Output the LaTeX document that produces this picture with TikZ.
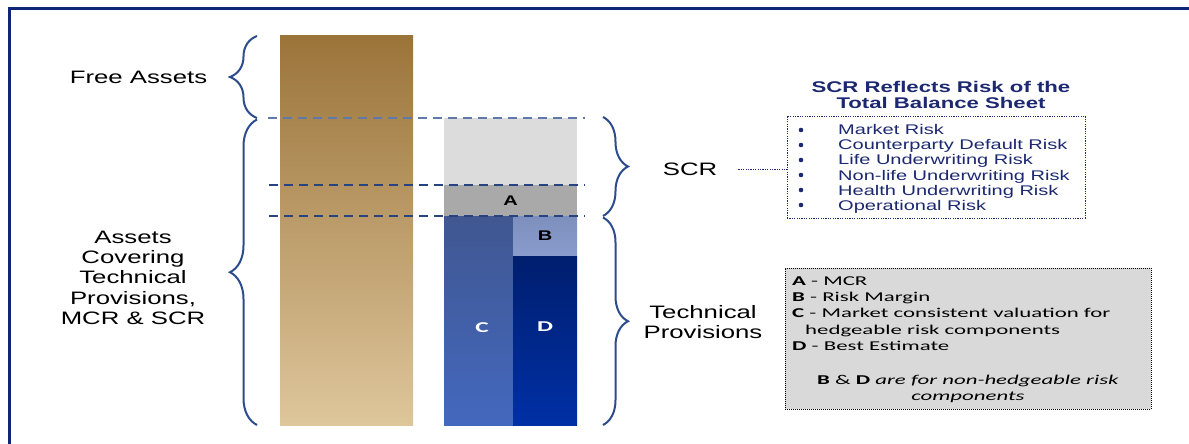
\documentclass[tikz,border=0pt]{standalone}
\usepackage{fontspec}
\setmainfont{Liberation Sans}
\newfontfamily\arialx[FakeStretch=1.43]{Liberation Sans}
\newfontfamily\calx[FakeStretch=1.69]{Carlito}
\usetikzlibrary{decorations.pathreplacing,calc}
\definecolor{cFrame}{RGB}{14,38,118}
\definecolor{cBrace}{RGB}{45,76,140}
\definecolor{cDash}{RGB}{40,68,128}
\definecolor{cDashLight}{RGB}{95,122,170}
\definecolor{cNavy}{RGB}{28,40,112}
\definecolor{cBrownTop}{RGB}{155,116,58}
\definecolor{cBrownBot}{RGB}{222,198,156}
\definecolor{cLGray}{RGB}{220,220,220}
\definecolor{cAGray}{RGB}{169,169,169}
\definecolor{cCTop}{RGB}{64,87,145}
\definecolor{cCBot}{RGB}{68,104,190}
\definecolor{cBTop}{RGB}{125,143,188}
\definecolor{cBBot}{RGB}{138,156,205}
\definecolor{cDTop}{RGB}{0,30,110}
\definecolor{cDBot}{RGB}{0,48,166}
\definecolor{cLegFill}{RGB}{217,217,217}
\tikzset{
  bar/.style={rectangle, inner sep=0pt, outer sep=0pt, draw=none},
  curly/.style={draw=cBrace, line width=2pt, decorate, decoration={brace, amplitude=#1}},
  guide/.style={draw=cDash, line width=1.4pt, dash pattern=on 9pt off 6pt},
  lbl/.style={font=\arialx\fontsize{18}{20.3}\selectfont, align=center, inner sep=0pt},
  item/.style={font=\arialx\fontsize{14}{15}\selectfont, text=cNavy, anchor=base west, inner sep=0pt},
  bul/.style={circle, fill=cNavy, inner sep=0pt, minimum size=4.6pt},
  leg/.style={font=\calx\fontsize{13.5}{16}\selectfont, anchor=base west, inner sep=0pt},
  ttl/.style={font=\arialx\bfseries\fontsize{15.5}{17}\selectfont, text=cNavy, anchor=base, inner sep=0pt},
  barlbl/.style={font=\arialx\bfseries\fontsize{14}{14}\selectfont},
  cdlbl/.style={font=\calx\bfseries\fontsize{15}{15}\selectfont, text=white, inner sep=0pt},
  dotline/.style={draw=cNavy, line width=1pt, dash pattern=on 1.2pt off 1.2pt}
}
\begin{document}
\begin{tikzpicture}[x=1pt,y=-1pt]
\useasboundingbox (0,0) rectangle (1189,444);
% frame
\draw[draw=cFrame, line width=3pt] (1189,8.5) -- (9,8.5) -- (9,444);
% bars
\node[bar, minimum width=133pt, minimum height=389pt, top color=cBrownTop, bottom color=cBrownBot] (assets) at (346.5,230.5) {};
\node[bar, fill=cLGray, minimum width=133pt, minimum height=67pt] (scrbox) at (510.5,151.5) {};
\node[bar, fill=cAGray, minimum width=133pt, minimum height=31pt, barlbl] (abox) at (510.5,200.5) {A};
\node[bar, top color=cCTop, bottom color=cCBot, minimum width=69pt, minimum height=209pt] (cbox) at (478.5,320.5) {};
\node[bar, top color=cBTop, bottom color=cBBot, minimum width=64pt, minimum height=40pt, barlbl] (bbox) at (545,236) {B};
\node[bar, top color=cDTop, bottom color=cDBot, minimum width=64pt, minimum height=169pt] (dbox) at (545,340.5) {};
\node[cdlbl] (clbl) at (482,327.5) {C};
\node[cdlbl] (dlbl) at (545,326.5) {D};
% guide lines
\draw[guide, draw=cDashLight] (268,118) -- (585,118);
\draw[guide] (269,185) -- (585,185);
\draw[guide] (269,216) -- (585,216);
% braces
\draw[curly=27pt] (257,118) -- (257,36);
\draw[curly=27pt] (257,425) -- (257,119.5);
\draw[curly=25pt] (603,117) -- (603,216);
\draw[curly=25pt] (603,217.5) -- (603,425);
% left labels
\node[lbl, anchor=base] (free) at (138.5,83.5) {Free Assets};
\node[lbl] (cover) at (133,277.8) {Assets\\Covering\\Technical\\Provisions,\\MCR \& SCR};
% right labels
\node[lbl, anchor=base] (scr) at (690,175.5) {SCR};
\node[lbl] (tp) at (703,322) {Technical\\Provisions};
% title
\node[ttl] (t1) at (941,92.2) {SCR Reflects Risk of the};
\node[ttl] (t2) at (941,108.8) {Total Balance Sheet};
% risk list box
\node[dotline, rectangle, inner sep=0pt, minimum width=298pt, minimum height=102pt] (listbox) at (936,167) {};
\node[bul] (b1) at (801,130) {};
\node[bul] (b2) at (801,145) {};
\node[bul] (b3) at (801,160) {};
\node[bul] (b4) at (801,175) {};
\node[bul] (b5) at (801,190) {};
\node[bul] (b6) at (801,205) {};
\node[item] (i1) at (838,134.5) {Market Risk};
\node[item] (i2) at (838,149.7) {Counterparty Default Risk};
\node[item] (i3) at (838,164.9) {Life Underwriting Risk};
\node[item] (i4) at (838,180.1) {Non-life Underwriting Risk};
\node[item] (i5) at (838,195.3) {Health Underwriting Risk};
\node[item] (i6) at (838,210.5) {Operational Risk};
% connector
\draw[dotline, shorten <=21pt] (scr.east) -- (scr.east -| listbox.west);
% legend
\node[draw=black, line width=1pt, dash pattern=on 1pt off 1pt, fill=cLegFill, rectangle, inner sep=0pt, minimum width=366pt, minimum height=141pt] (legend) at (968,338.5) {};
\node[leg] (l1) at (792,285.5) {\textbf{A} - MCR};
\node[leg] (l2) at (792,301.5) {\textbf{B} - Risk Margin};
\node[leg] (l3) at (792,317.5) {\textbf{C} - Market consistent valuation for};
\node[leg] (l4) at (805,334) {hedgeable risk components};
\node[leg] (l5) at (792,350.5) {\textbf{D} - Best Estimate};
\node[leg, anchor=base] (l6) at (968,384.5) {\textbf{B} \& \textbf{D} \textit{are for non-hedgeable risk}};
\node[leg, anchor=base] (l7) at (968,400.5) {\textit{components}};
\end{tikzpicture}
\end{document}
